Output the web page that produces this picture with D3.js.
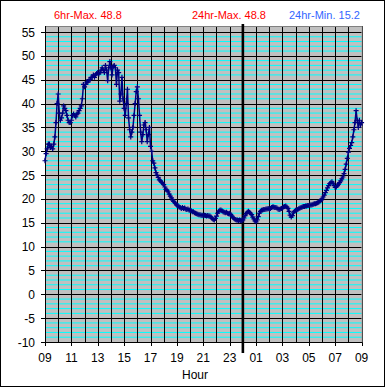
<!DOCTYPE html>
<html>
<head>
<meta charset="utf-8">
<script src="https://cdn.jsdelivr.net/npm/d3@7"></script>
<style>
  html, body { margin: 0; padding: 0; background: #fff; }
  svg { display: block; }
</style>
</head>
<body>
<div id="chart"></div>
<script>
  // readings every 5 minutes, starting 09:00
  var stepMinutes = 5;
  var temps = [
    28.0, 29.5, 30.5, 31.5, 31.5, 30.8, 31.0, 30.5, 31.5, 33.0, 36.0, 40.0,
    42.0, 38.0, 36.5, 37.0, 38.0, 39.5,
    39.0, 38.5, 37.5, 36.5, 36.0, 36.0, 36.5, 37.5, 37.8, 37.5, 37.2, 37.8,
    38.0, 38.5, 39.0, 39.5, 41.0, 44.0, 43.5, 44.0, 44.5, 44.5, 45.0, 45.0,
    45.5, 45.5, 46.0, 45.5, 46.0, 46.3, 46.5, 46.2, 46.5, 47.0, 47.5, 47.0,
    46.5, 48.0, 47.0, 44.8, 47.5, 48.8, 47.5, 46.0, 47.8, 48.0, 47.5, 44.0,
    47.0, 46.5, 40.5, 42.0, 45.5, 41.0, 39.0, 37.5, 40.0, 43.0, 37.0, 34.5,
    33.0, 34.0, 35.0, 37.5, 40.0, 42.5, 43.5, 41.0, 37.5, 34.0, 32.0, 33.5,
    35.5, 36.0, 34.5, 32.0, 33.5, 35.0, 31.0, 30.0, 28.0, 27.5, 26.5, 25.5,
    25.0, 24.5, 24.0, 23.8, 23.5, 23.3, 23.0, 22.5, 22.0, 21.8, 21.5, 21.0,
    20.6, 20.2, 19.8, 19.5, 19.2, 19.0, 18.7, 18.5, 18.3, 18.2, 18.0, 18.2,
    18.0, 18.1, 17.9, 17.8, 17.9, 17.7, 17.6, 17.5, 17.3, 17.3, 17.1, 17.0,
    16.9, 16.8, 16.7, 16.7, 16.6, 16.6, 16.5, 16.6, 16.5, 16.4, 16.5, 16.4,
    16.4, 16.2, 15.9, 15.7, 15.6, 15.9, 16.4, 17.0, 17.4, 17.6, 17.7, 17.5,
    17.3, 17.2, 17.1, 17.2, 17.0, 16.9, 17.0, 16.7, 16.4, 16.1, 15.9, 15.7,
    15.6, 15.6, 15.5, 15.6, 15.5, 15.4, 15.6, 16.0, 16.5, 16.9, 17.2, 17.4,
    17.2, 17.0, 16.7, 16.2, 15.8, 15.4, 15.2, 15.6, 16.3, 17.0, 17.4, 17.6,
    17.7, 17.8, 17.8, 17.9, 17.9, 18.0, 17.9, 18.0, 18.2, 18.3, 18.3, 18.2,
    18.2, 18.1, 17.9, 17.8, 17.9, 18.0, 18.1, 18.3, 18.4, 18.5, 18.3, 18.0,
    17.4, 16.6, 16.2, 16.5, 17.1, 17.4, 17.6, 17.7, 17.8, 18.0, 18.1, 18.2,
    18.3, 18.4, 18.4, 18.5, 18.5, 18.6, 18.6, 18.7, 18.7, 18.8, 18.9, 19.0,
    19.0, 19.1, 19.2, 19.3, 19.5, 19.7, 20.0, 20.4, 20.8, 21.3, 21.8, 22.3,
    22.8, 23.2, 23.4, 23.6, 23.3, 22.8, 22.4, 22.5, 22.8, 23.1, 23.4, 23.8,
    24.2, 24.6, 25.3, 26.2, 27.3, 28.5, 29.8, 30.6, 31.2, 31.8, 33.0, 34.5,
    36.0, 38.5, 36.5, 35.0, 36.5, 35.5, 36.0
  ];
  var hourLabels = ['09','11','13','15','17','19','21','23','01','03','05','07','09'];
  var yTicks = [55, 50, 45, 40, 35, 30, 25, 20, 15, 10, 5, 0, -5, -10];
  var headers = [
    { text: '6hr-Max. 48.8', color: '#ff0000' },
    { text: '24hr-Max. 48.8', color: '#ff0000' },
    { text: '24hr-Min. 15.2', color: '#3366ff' }
  ];
  var midnightHour = 15; // hours after 09:00

  var FONT = 'Arial, "Liberation Sans", sans-serif';
  var w = 385, h = 388;
  var svg = d3.select('#chart').append('svg').attr('width', w).attr('height', h);

  svg.append('rect').attr('x', 0.5).attr('y', 0.5).attr('width', 384).attr('height', 386)
    .attr('fill', '#fff').attr('stroke', '#000').attr('stroke-width', 1);

  var x = d3.scaleLinear().domain([0, 24]).range([45, 361.6]);
  var y = d3.scaleLinear().domain([-10, 55]).range([342, 32]);
  var yTop = y(56.25), yBot = y(-10);

  // plot background
  svg.append('rect').attr('x', x(0)).attr('y', yTop)
    .attr('width', x(24) - x(0)).attr('height', yBot - yTop)
    .attr('fill', '#c0c0c0');

  // minor cyan lines every degree
  var minor = d3.range(-9, 56).filter(function(d) { return d % 5 !== 0; });
  svg.append('g').selectAll('line').data(minor).join('line')
    .attr('x1', x(0)).attr('x2', x(24))
    .attr('y1', function(d) { return y(d); }).attr('y2', function(d) { return y(d); })
    .attr('stroke', '#00ffff').attr('stroke-width', 1);

  // major black lines
  svg.append('g').selectAll('line').data(yTicks).join('line')
    .attr('x1', x(0) - 4).attr('x2', x(24))
    .attr('y1', function(d) { return Math.round(y(d)) + 0.5; }).attr('y2', function(d) { return Math.round(y(d)) + 0.5; })
    .attr('stroke', '#000').attr('stroke-width', 1);

  // hourly verticals
  svg.append('g').selectAll('line').data(d3.range(0, 25)).join('line')
    .attr('x1', function(d) { return Math.round(x(d)) + 0.5; }).attr('x2', function(d) { return Math.round(x(d)) + 0.5; })
    .attr('y1', yTop).attr('y2', function(d) { return d % 2 === 0 ? yBot + 4 : yBot; })
    .attr('stroke', '#000').attr('stroke-width', 1);

  // plot border
  svg.append('rect').attr('x', x(0) + 0.5).attr('y', Math.round(yTop) + 0.5)
    .attr('width', x(24) - x(0)).attr('height', Math.round(yBot) - Math.round(yTop))
    .attr('fill', 'none').attr('stroke', '#808080').attr('stroke-width', 1);
  svg.append('line').attr('x1', x(0) + 0.5).attr('x2', x(0) + 0.5).attr('y1', yTop).attr('y2', yBot + 1)
    .attr('stroke', '#000');
  svg.append('line').attr('x1', x(0)).attr('x2', x(24) + 1).attr('y1', Math.round(yBot) + 0.5).attr('y2', Math.round(yBot) + 0.5)
    .attr('stroke', '#000');

  // midnight marker
  svg.append('line').attr('x1', x(midnightHour)).attr('x2', x(midnightHour))
    .attr('y1', yTop - 2).attr('y2', yBot + 11)
    .attr('stroke', '#000').attr('stroke-width', 2.6);

  // y labels
  svg.append('g').selectAll('text').data(yTicks).join('text')
    .attr('x', 35).attr('y', function(d) { return y(d) + 4.5; })
    .attr('text-anchor', 'end').attr('font-family', FONT).attr('font-size', '12px').attr('fill', '#000')
    .text(function(d) { return d; });

  // x labels
  svg.append('g').selectAll('text').data(hourLabels).join('text')
    .attr('x', function(d, i) { return x(i * 2); }).attr('y', 362)
    .attr('text-anchor', 'middle').attr('font-family', FONT).attr('font-size', '12px').attr('fill', '#000')
    .text(function(d) { return d; });

  svg.append('text').attr('x', 195).attr('y', 379).attr('text-anchor', 'middle')
    .attr('font-family', FONT).attr('font-size', '12px').attr('fill', '#000').text('Hour');

  // header labels
  var headerX = [54, 192, 289];
  svg.append('g').selectAll('text').data(headers).join('text')
    .attr('x', function(d, i) { return headerX[i]; }).attr('y', 19)
    .attr('font-family', FONT).attr('font-size', '11px')
    .attr('fill', function(d) { return d.color; })
    .text(function(d) { return d.text; });

  // series
  var pts = temps.map(function(v, i) { return { t: i * stepMinutes / 60, v: v }; });
  var line = d3.line().x(function(d) { return x(d.t); }).y(function(d) { return y(d.v); });
  svg.append('path').datum(pts).attr('d', line)
    .attr('fill', 'none').attr('stroke', '#000080').attr('stroke-width', 1.5);

  svg.append('g').selectAll('path').data(pts).join('path')
    .attr('transform', function(d) { return 'translate(' + x(d.t) + ',' + y(d.v) + ')'; })
    .attr('d', 'M-2.5,0H2.5M0,-2.5V2.5')
    .attr('fill', 'none').attr('stroke', '#000080').attr('stroke-width', 1.2);
</script>
</body>
</html>
